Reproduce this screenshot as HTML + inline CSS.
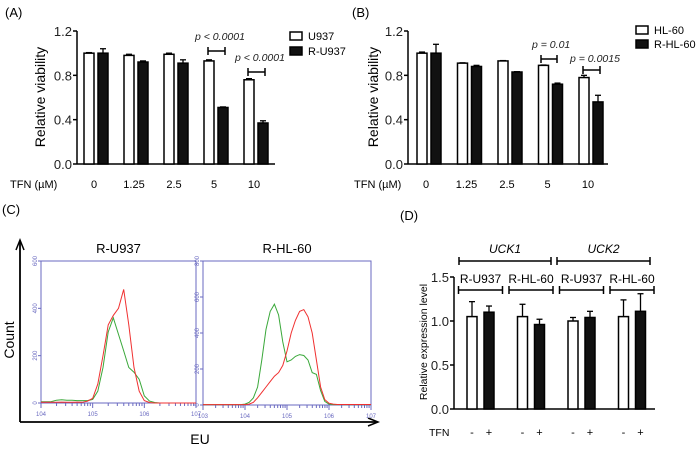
<!DOCTYPE html>
<html><head><meta charset="utf-8"><style>
body{margin:0;background:#fff;}
svg{display:block;font-family:"Liberation Sans",Arial,sans-serif;}
</style></head><body>
<svg id="fig" width="700" height="451" viewBox="0 0 700 451"></svg>
<script>
// ---- Panel A data ----
const catsA = ["0","1.25","2.5","5","10"];
const whiteA = [1.0,0.98,0.99,0.93,0.76];
const whiteErrA = [0.005,0.01,0.01,0.01,0.01];
const blackA = [1.0,0.92,0.91,0.51,0.37];
const blackErrA = [0.04,0.01,0.03,0.005,0.02];
// ---- Panel B data ----
const catsB = ["0","1.25","2.5","5","10"];
const whiteB = [1.0,0.91,0.93,0.89,0.78];
const whiteErrB = [0.01,0.003,0.003,0.003,0.02];
const blackB = [1.0,0.88,0.83,0.72,0.56];
const blackErrB = [0.08,0.01,0.003,0.01,0.06];
const yTicksAB = ["0.0","0.4","0.8","1.2"];
// ---- Panel C data (counts at log10 positions step 0.1) ----
const redC1 = [3,3,3,3,4,3,3,4,3,8,20,80,200,330,370,400,480,330,150,50,10,2,0,0,0,0,0,0,0,0,0];
const greenC1 = [5,5,6,12,14,12,12,10,10,10,15,50,150,300,360,290,220,150,130,100,30,8,2,0,0,0,0,0,0,0,0];
const redC2 = [2,2,2,2,2,2,2,2,2,2,2,5,15,40,70,100,130,160,180,220,300,400,470,520,530,490,400,250,100,30,10,5,3,3,3,3,3,3,3,3,3];
const greenC2 = [2,2,2,2,2,2,2,2,2,2,5,15,40,100,250,420,520,560,500,350,240,250,270,280,275,250,180,170,80,20,5,2,2,2,2,2,2,2,2,2,2];
// ---- Panel D data ----
const groupsD = ["R-U937","R-HL-60","R-U937","R-HL-60"];
const whiteD = [1.05,1.05,1.0,1.05];
const whiteErrD = [0.17,0.14,0.04,0.19];
const blackD = [1.1,0.96,1.04,1.11];
const blackErrD = [0.07,0.06,0.07,0.2];
const yTicksD = ["0.0","0.5","1.0","1.5"];

const NS="http://www.w3.org/2000/svg";
const svg=document.getElementById('fig');
function el(tag,attrs,parent,text){const e=document.createElementNS(NS,tag);for(const k in attrs)e.setAttribute(k,attrs[k]);if(text!==undefined)e.textContent=text;(parent||svg).appendChild(e);return e;}

function barPanel(o){
  const g=el('g',{});
  
  
  const y=v=>o.y0-(v/o.ymax)*(o.y0-o.ytop);
  el('line',{x1:o.ax,y1:o.ytop,x2:o.ax,y2:o.y0,stroke:'#000','stroke-width':1.5},g);
  el('line',{x1:o.ax,y1:o.y0,x2:o.axEnd,y2:o.y0,stroke:'#000','stroke-width':1.5},g);
  o.yTicks.forEach(t=>{const yy=y(parseFloat(t));
    el('line',{x1:o.ax-4,y1:yy,x2:o.ax,y2:yy,stroke:'#000','stroke-width':1.5},g);
    const tx=el('text',{x:o.ax-5,y:yy+5,'text-anchor':'end','font-size':o.tfs,fill:'#222'},g,t);
    
  });
  o.white.forEach((v,i)=>{
    const cx=o.x0+i*o.step;
    [[v,o.wErr[i],cx-o.off-o.bw,'#fff','white'],[o.black[i],o.bErr[i],cx+o.off,'#111','black']].forEach(b=>{
      const top=y(b[0]);
      const et=y(b[0]+b[1]);
      el('line',{x1:b[2]+o.bw/2,y1:top,x2:b[2]+o.bw/2,y2:et,stroke:'#000','stroke-width':1.3},g);
      el('line',{x1:b[2]+o.bw/2-3,y1:et,x2:b[2]+o.bw/2+3,y2:et,stroke:'#000','stroke-width':1.3},g);
      const r=el('rect',{x:b[2],y:top,width:o.bw,height:o.y0-top,fill:b[3],stroke:'#000','stroke-width':1.5},g);
      
      
    });
  });
  return {g,y};
}

// Panel A
el('text',{x:5,y:17,'font-size':13},svg,'(A)');
const A=barPanel({name:'panel-a-chart',ax:77,axEnd:275,ytop:31,y0:164,ymax:1.2,yTicks:yTicksAB,tfs:13,white:whiteA,wErr:whiteErrA,black:blackA,bErr:blackErrA,x0:96,step:40,off:2,bw:10});
catsA.forEach((c,i)=>{const t=el('text',{x:96+i*40-2,y:188,'text-anchor':'middle','font-size':11},svg,c);});
el('text',{x:10,y:188,'font-size':11},svg,'TFN (\u00b5M)');
el('text',{transform:'translate(45,97) rotate(-90)','text-anchor':'middle','font-size':14},svg,'Relative viability');
// Panel B
el('text',{x:352,y:17,'font-size':13},svg,'(B)');
const B=barPanel({name:'panel-b-chart',ax:408,axEnd:608,ytop:31,y0:164,ymax:1.2,yTicks:yTicksAB,tfs:13,white:whiteB,wErr:whiteErrB,black:blackB,bErr:blackErrB,x0:429,step:40.5,off:2,bw:10});
catsB.forEach((c,i)=>{const t=el('text',{x:429+i*40.5-3,y:188,'text-anchor':'middle','font-size':11},svg,c);});
el('text',{x:354,y:188,'font-size':11},svg,'TFN (\u00b5M)');
el('text',{transform:'translate(378,97) rotate(-90)','text-anchor':'middle','font-size':14},svg,'Relative viability');

function pbracket(x1,x2,yy,label,lx,ly){
  el('line',{x1,y1:yy,x2,y2:yy,stroke:'#000','stroke-width':1.5});
  el('line',{x1,y1:yy-4,x2:x1,y2:yy+4,stroke:'#000','stroke-width':1.5});
  el('line',{x1:x2,y1:yy-4,x2,y2:yy+4,stroke:'#000','stroke-width':1.5});
  const t=el('text',{x:lx,y:ly,'font-size':10.5,'font-style':'italic',fill:'#222'},svg,label);
  
}
pbracket(208,225,51,'p < 0.0001',195,40);
pbracket(248,265,72,'p < 0.0001',235,61);
pbracket(541,557,59,'p = 0.01',532,48);
pbracket(583,600,70,'p = 0.0015',570,62);

// legends
function legend(x,y,lab,fill){const r=el('rect',{x,y,width:12,height:8,fill,stroke:'#000','stroke-width':1.5});el('text',{x:x+18,y:y+8,'font-size':11},svg,lab);}
legend(290,32,'U937','#fff');legend(290,47,'R-U937','#111');
legend(636,26,'HL-60','#fff');legend(636,40,'R-HL-60','#111');

// Panel C
el('text',{x:2,y:214,'font-size':13},svg,'(C)');
el('line',{x1:20,y1:422,x2:20,y2:242,stroke:'#000','stroke-width':1.8});
el('polyline',{points:'16,250 20,240 24,250',fill:'none',stroke:'#000','stroke-width':1.5});
el('line',{x1:20,y1:422,x2:376,y2:422,stroke:'#000','stroke-width':1.8});
el('polyline',{points:'368,418 378,422 368,426',fill:'none',stroke:'#000','stroke-width':1.5});
el('text',{transform:'translate(14,340) rotate(-90)','text-anchor':'middle','font-size':14},svg,'Count');
el('text',{x:200,y:444,'text-anchor':'middle','font-size':14},svg,'EU');

function hist(o){
  const g=el('g',{});
  
  el('rect',{x:o.x1,y:o.y1,width:o.x2-o.x1,height:o.y2-o.y1,fill:'none',stroke:'#6a6ac0','stroke-width':1},g);
  el('text',{x:(o.x1+o.x2)/2,y:o.y1-8,'text-anchor':'middle','font-size':13},g,o.title);
  const X=l=>o.x1+(l-o.lmin)/(o.lmax-o.lmin)*(o.x2-o.x1);
  const Y=v=>o.y2-v/o.ymax*(o.y2-o.y1);
  o.yt.forEach(v=>{el('line',{x1:o.x1-3,y1:Y(v),x2:o.x1,y2:Y(v),stroke:'#6a6ac0'},g);
    el('text',{transform:`translate(${o.x1-4},${Y(v)}) rotate(-90)`,'text-anchor':'middle','font-size':6,fill:'#6a6ac0'},g,String(v));});
  for(let d=o.lmin;d<=o.lmax;d++){
    el('line',{x1:X(d),y1:o.y2,x2:X(d),y2:o.y2+5,stroke:'#6a6ac0'},g);
    el('text',{x:X(d),y:o.y2+13,'text-anchor':'middle','font-size':6,fill:'#6a6ac0'},g,'10'+d);
    if(d<o.lmax)for(let k=2;k<10;k++){const xx=X(d+Math.log10(k));el('line',{x1:xx,y1:o.y2,x2:xx,y2:o.y2+3,stroke:'#6a6ac0'},g);}
  }
  [[o.green,'#3aa83a','green'],[o.red,'#f03030','red']].forEach(s=>{
    const pts=s[0].map((v,i)=>X(o.lmin+i*0.1).toFixed(1)+','+Y(v).toFixed(1)).join(' ');
    const p=el('polyline',{points:pts,fill:'none',stroke:s[1],'stroke-width':1},g);
    
  });
}
hist({name:'histogram-r-u937',title:'R-U937',x1:41,x2:196,y1:261,y2:403,lmin:4,lmax:7,ymax:600,yt:[0,200,400,600],red:redC1,green:greenC1});
hist({name:'histogram-r-hl-60',title:'R-HL-60',x1:203,x2:371,y1:261,y2:405,lmin:3,lmax:7,ymax:800,yt:[0,200,400,600,800],red:redC2,green:greenC2});

// Panel D
el('text',{x:400,y:220,'font-size':13},svg,'(D)');
const D=barPanel({name:'panel-d-chart',ax:454,axEnd:655,ytop:277,y0:409,ymax:1.5,yTicks:yTicksD,tfs:13,white:whiteD,wErr:whiteErrD,black:blackD,bErr:blackErrD,x0:480.5,step:50.5,off:3.5,bw:10});
el('text',{transform:'translate(427,342) rotate(-90)','text-anchor':'middle','font-size':10.5},svg,'Relative expression level');
el('text',{x:429,y:436,'font-size':10.5},svg,'TFN');
groupsD.forEach((gname,i)=>{
  const cx=480.5+i*50.5;
  el('text',{x:cx-8.5,y:436,'text-anchor':'middle','font-size':11},svg,'-');
  el('text',{x:cx+8.5,y:436,'text-anchor':'middle','font-size':11},svg,'+');
  const x1=cx-22,x2=cx+22;
  el('line',{x1,y1:290,x2,y2:290,stroke:'#000','stroke-width':1.5});
  el('line',{x1,y1:286,x2:x1,y2:294,stroke:'#000','stroke-width':1.5});
  el('line',{x1:x2,y1:286,x2,y2:294,stroke:'#000','stroke-width':1.5});
  const t=el('text',{x:cx,y:283,'text-anchor':'middle','font-size':12},svg,gname);
  
});
[['UCK1',459,551],['UCK2',557,650]].forEach(b=>{
  el('line',{x1:b[1],y1:261,x2:b[2],y2:261,stroke:'#000','stroke-width':1.5});
  el('line',{x1:b[1],y1:257,x2:b[1],y2:265,stroke:'#000','stroke-width':1.5});
  el('line',{x1:b[2],y1:257,x2:b[2],y2:265,stroke:'#000','stroke-width':1.5});
  el('text',{x:(b[1]+b[2])/2,y:253,'text-anchor':'middle','font-size':12,'font-style':'italic'},svg,b[0]);
});
</script>
</body></html>
